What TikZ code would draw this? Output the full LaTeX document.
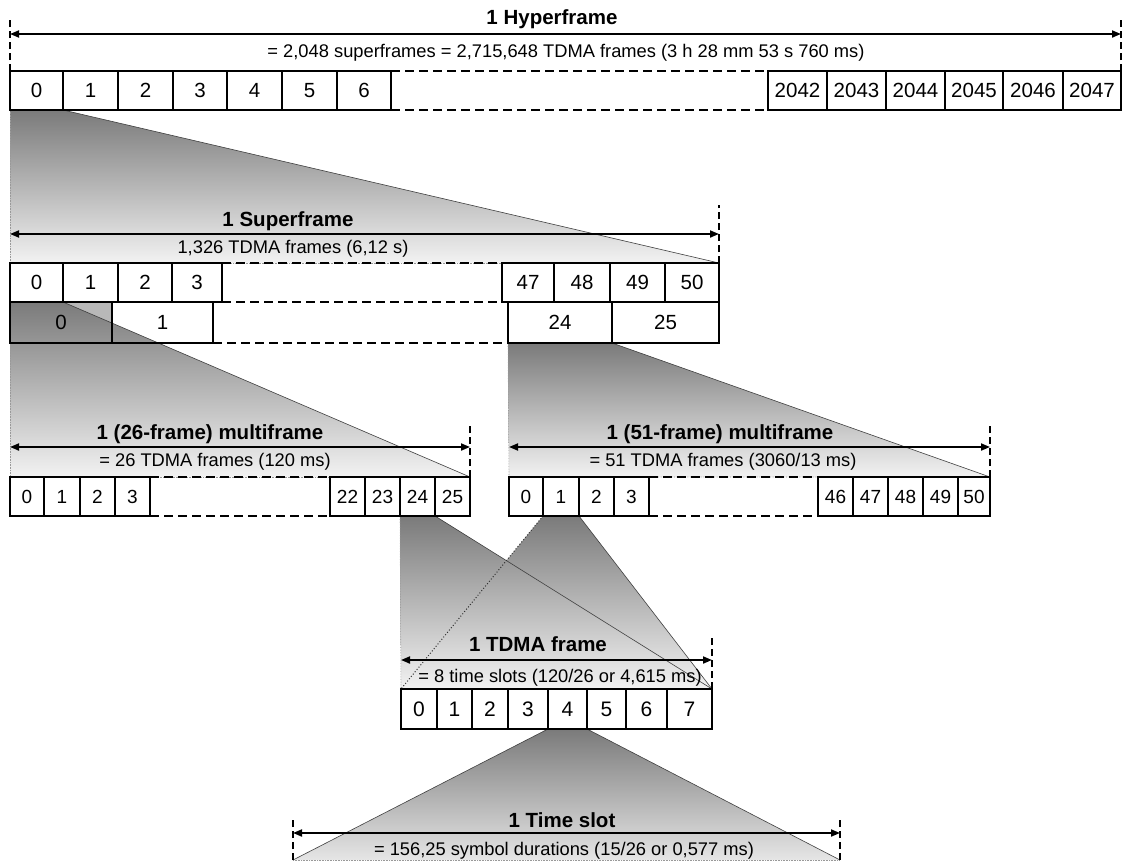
\documentclass[tikz,border=0pt]{standalone}
\usepackage{fontspec}
\setmainfont{Liberation Sans}
\usetikzlibrary{arrows.meta,backgrounds}

\tikzset{
  slot/.style={draw, line width=1.8pt, fill=white, inner sep=0pt, outer sep=0pt,
    anchor=north west, minimum height=39pt, font=\fontsize{20.5}{22}\selectfont},
  heading/.style={anchor=base, font=\bfseries\fontsize{20.5}{22}\selectfont},
  note/.style={anchor=base, font=\fontsize{18.3}{20}\selectfont},
  dimline/.style={line width=1.8pt, {Triangle[length=9pt,width=7pt]}-{Triangle[length=9pt,width=7pt]}},
  guide/.style={line width=1.8pt, dash pattern=on 7pt off 4pt},
  gapline/.style={line width=1.6pt, dash pattern=on 9pt off 5pt},
  fan/.style={top color=black!52, bottom color=black!5},
  fan edge/.style={black!75, line width=0.6pt},
  fan rim/.style={black!40, line width=0.6pt, densely dotted},
  cross rim/.style={black!80, line width=1pt, dotted}
}

\begin{document}
\begin{tikzpicture}[x=1pt, y=-1pt]
  \useasboundingbox (0,0) rectangle (1125,860);

  % hyperframe: superframes 0-6 ... 2042-2047
  \foreach \xl/\xr/\t in {10/63/0,63/118/1,118/173/2,173/227/3,227/282/4,282/337/5,337/391/6,
      768/827/2042,827/886/2043,886/945/2044,945/1003/2045,1003/1063/2046,1063/1121/2047}
    \node[slot, minimum width=\xr-\xl] (hf\t) at (\xl,71) {\t};
  \draw[gapline] (hf6.north east) -- (hf2042.north west);
  \draw[gapline] (hf6.south east) -- (hf2042.south west);

  % superframe: multiframes 0-3 ... 47-50
  \foreach \xl/\xr/\t in {10/63/0,63/118/1,118/172/2,172/222/3,502/554/47,554/610/48,610/665/49,665/719/50}
    \node[slot, minimum width=\xr-\xl] (sf\t) at (\xl,263) {\t};
  \draw[gapline] (sf3.north east) -- (sf47.north west);
  \draw[gapline] (sf3.south east) -- (sf47.south west);
  % second row: 51-frame multiframes 0, 1 ... 24, 25
  \foreach \xl/\xr/\t in {10/112/0,112/213/1,508/612/24,612/719/25}
    \node[slot, fill=none, minimum height=41pt, minimum width=\xr-\xl] (sb\t) at (\xl,302) {\t};
  \draw[gapline] (sb1.south east) -- (sb24.south west);

  % 26-frame multiframe
  \foreach \xl/\xr/\t in {10/44/0,44/80/1,80/115/2,115/150/3,330/365/22,365/400/23,400/435/24,435/470/25}
    \node[slot, font=\fontsize{19}{21}\selectfont, minimum width=\xr-\xl] (ma\t) at (\xl,477) {\t};
  \draw[gapline] (ma3.north east) -- (ma22.north west);
  \draw[gapline] (ma3.south east) -- (ma22.south west);

  % 51-frame multiframe
  \foreach \xl/\xr/\t in {509/543/0,543/579/1,579/614/2,614/649/3,818/853/46,853/888/47,888/923/48,923/958/49,958/990/50}
    \node[slot, font=\fontsize{19}{21}\selectfont, minimum width=\xr-\xl] (mb\t) at (\xl,477) {\t};
  \draw[gapline] (mb3.north east) -- (mb46.north west);
  \draw[gapline] (mb3.south east) -- (mb46.south west);

  % TDMA frame: 8 time slots
  \foreach \xl/\xr/\t in {401/437/0,437/472/1,472/508/2,508/548/3,548/587/4,587/626/5,626/667/6,667/712/7}
    \node[slot, font=\fontsize{21}{22}\selectfont, minimum height=40pt, minimum width=\xr-\xl] (tf\t) at (\xl,689) {\t};

  \coordinate (tsL) at (293,860);
  \coordinate (tsR) at (840,860);

  % shaded fans behind the boxes
  \begin{scope}[on background layer]
    \fill[white] (0,0) rectangle (1125,860);
    \fill[black!28] (sb0.north west) rectangle (sb0.south east);
    \shade[fan] (hf0.south west) -- (hf0.south east) -- (sf50.north east) -- (sf0.north west) -- cycle;
    \shade[fan] (sf0.south west) -- (sf0.south east) -- (ma25.north east) -- (ma0.north west) -- cycle;
    \shade[fan] (sb24.south west) -- (sb24.south east) -- (mb50.north east) -- (mb0.north west) -- cycle;
    \shade[fan] (ma24.south west) -- (ma24.south east) -- (tf7.north east) -- (tf0.north west) -- cycle;
    \shade[fan] (mb1.south west) -- (mb1.south east) -- (tf7.north east) -- (tf0.north west) -- cycle;
    \shade[fan, bottom color=black!10] (tf4.south west) -- (tf4.south east) -- (tsR) -- (tsL) -- cycle;
    % fan outlines
    \draw[fan rim] (hf0.south west) -- (sf0.north west) -- (sf50.north east);
    \draw[fan rim] (sf0.south west) -- (ma0.north west) -- (ma25.north east);
    \draw[fan rim] (sb24.south west) -- (mb0.north west) -- (mb50.north east);
    \draw[fan rim] (ma24.south west) -- (tf0.north west);
    \draw[fan rim] (tsL) -- (tsR);
    \draw[fan edge] (hf0.south east) -- (sf50.north east);
    \draw[fan edge] (sf0.south east) -- (ma25.north east);
    \draw[fan edge] (sb24.south east) -- (mb50.north east);
    \draw[fan edge] (ma24.south east) -- (tf7.north east);
    \draw[fan edge] (mb1.south east) -- (tf7.north east);
    \draw[cross rim] (mb1.south west) -- (tf0.north west);
    \draw[fan edge] (tf4.south west) -- (tsL);
    \draw[fan edge] (tf4.south east) -- (tsR);
  \end{scope}

  % dashed limits
  \draw[guide] (hf0.north west) -- ++(0,-51);
  \draw[guide] (hf2047.north east) -- ++(0,-51);
  \draw[guide] (sf50.north east) -- ++(0,-58);
  \draw[guide] (ma25.north east) -- ++(0,-52);
  \draw[guide] (mb50.north east) -- ++(0,-52);
  \draw[guide] (tf7.north east) -- ++(0,-52);
  \draw[guide] (tsL) -- ++(0,-40);
  \draw[guide] (tsR) -- ++(0,-40);

  % length arrows
  \coordinate (hyL) at (10,34);   \coordinate (hyR) at (1121,34);
  \coordinate (sfL) at (10,234);  \coordinate (sfR) at (719,234);
  \coordinate (maL) at (10,447);  \coordinate (maR) at (470,447);
  \coordinate (mbL) at (509,447); \coordinate (mbR) at (990,447);
  \coordinate (tfL) at (401,660); \coordinate (tfR) at (712,660);
  \coordinate (tsAL) at (293,833); \coordinate (tsAR) at (840,833);
  \draw[dimline] (hyL) -- (hyR);
  \draw[dimline] (sfL) -- (sfR);
  \draw[dimline] (maL) -- (maR);
  \draw[dimline] (mbL) -- (mbR);
  \draw[dimline] (tfL) -- (tfR);
  \draw[dimline] (tsAL) -- (tsAR);

  % labels
  \node[heading] (hyT) at (552,24) {1 Hyperframe};
  \node[note] (hyN) at (566,57) {= 2,048 superframes = 2,715,648 TDMA frames (3 h 28 mm 53 s 760 ms)};
  \node[heading] (sfT) at (288,226) {1 Superframe};
  \node[note] (sfN) at (293,253) {1,326 TDMA frames (6,12 s)};
  \node[heading] (maT) at (210,439) {1 (26-frame) multiframe};
  \node[note] (maN) at (215,466) {= 26 TDMA frames (120 ms)};
  \node[heading] (mbT) at (720,439) {1 (51-frame) multiframe};
  \node[note] (mbN) at (723,466) {= 51 TDMA frames (3060/13 ms)};
  \node[heading] (tfT) at (538,651) {1 TDMA frame};
  \node[note] (tfN) at (560,682) {= 8 time slots (120/26 or 4,615 ms)};
  \node[heading] (tsT) at (562,827) {1 Time slot};
  \node[note] (tsN) at (564,855) {= 156,25 symbol durations (15/26 or 0,577 ms)};
\end{tikzpicture}
\end{document}
